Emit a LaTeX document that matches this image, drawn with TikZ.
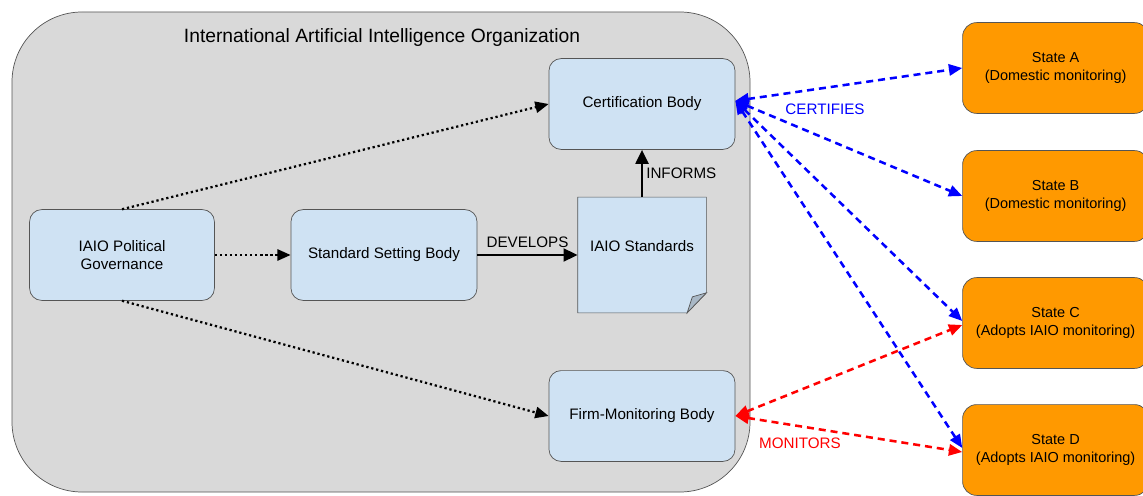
\documentclass[tikz,border=0pt]{standalone}
\usepackage{fontspec}
\setmainfont{Liberation Sans}
\usepackage{tikz}
\usetikzlibrary{arrows.meta,positioning,calc}
\definecolor{orggray}{HTML}{D9D9D9}
\definecolor{unitblue}{HTML}{CFE2F3}
\definecolor{stateorange}{HTML}{FF9900}
\definecolor{edgegray}{HTML}{555555}
\definecolor{foldgray}{HTML}{A9B8C6}
\tikzset{
    >={Triangle[length=9.5pt,width=8pt]},
    every picture/.style={line width=0.5pt},
    unit/.style={rectangle,rounded corners=0.3cm,draw=edgegray,fill=unitblue,
        minimum width=4.65cm,minimum height=2.27cm,align=center,
        font=\fontsize{10.8}{13}\selectfont},
    statebox/.style={rectangle,rounded corners=0.35cm,draw=edgegray,fill=stateorange,
        minimum width=4.65cm,minimum height=2.27cm,align=center,
        font=\fontsize{10.3}{12.3}\selectfont},
    lbl/.style={font=\fontsize{10.8}{13}\selectfont,inner sep=1pt},
    link/.style={line width=1.6pt,dotted,->},
    flow/.style={line width=2.1pt,-{Triangle[length=10pt,width=9pt]}},
    certline/.style={line width=1.8pt,blue,dash pattern=on 5pt off 3.5pt,<->},
    monline/.style={line width=1.8pt,red,dash pattern=on 5pt off 3.5pt,<->}
}
\begin{document}
\begin{tikzpicture}
    \useasboundingbox (0,0) rectangle (28.575,12.375);
    % organisation frame
    \draw[draw=edgegray,fill=orggray,rounded corners=1.75cm] (0.3,0.075) rectangle (18.75,12.075);
    \node[font=\fontsize{13.7}{16}\selectfont] (orgtitle) at (9.55,11.425) {International Artificial Intelligence Organization};

    % bodies
    \node[unit] (cert) at (16.05,9.775) {Certification Body};
    \node[unit,minimum width=4.62cm] (gov) at (3.05,6.0) {IAIO Political\\Governance};
    \node[unit] (ssb) at (9.6,6.0) {Standard Setting Body};
    \node[unit] (firm) at (16.05,1.975) {Firm-Monitoring Body};

    % standards document
    \node[minimum width=3.2cm,minimum height=2.875cm,inner sep=0pt] (std) at (16.05,6.0) {};
    \draw[draw=edgegray,fill=unitblue]
        (std.north west) -- (std.north east) -- ($(std.south east)+(0,0.5)$)
        -- ($(std.south east)+(-0.48,0)$) -- (std.south west) -- cycle;
    \draw[draw=edgegray,fill=foldgray]
        ($(std.south east)+(0,0.5)$) -- ($(std.south east)+(-0.35,0.4)$)
        -- ($(std.south east)+(-0.48,0)$) -- cycle;
    \node[lbl] (stdtext) at ($(std)+(0,0.22)$) {IAIO Standards};

    % states
    \node[statebox] (stA) at (26.39,10.675) {State A\\(Domestic monitoring)};
    \node[statebox] (stB) at (26.39,7.475) {State B\\(Domestic monitoring)};
    \node[statebox] (stC) at (26.39,4.3) {State C\\(Adopts IAIO monitoring)};
    \node[statebox] (stD) at (26.39,1.125) {State D\\(Adopts IAIO monitoring)};

    % internal links
    \draw[link] (gov.north) -- (cert.west);
    \draw[link] (gov.east) -- (ssb.west);
    \draw[link] (gov.south) -- (firm.west);
    \draw[flow] (ssb.east) -- node[lbl,above=3pt] {DEVELOPS} (std.west);
    \draw[flow] (std.north) -- node[lbl,right=1pt] {INFORMS} (cert.south);

    % certification
    \draw[certline] ($(cert.east)+(0,0.08)$) -- (stA.west);
    \draw[certline] ($(cert.east)+(0,0.08)$) -- (stB.west);
    \draw[certline] ($(cert.east)+(0,0.08)$) -- ($(stC.west)+(0,0.05)$);
    \draw[certline] ($(cert.east)+(0,0.08)$) -- ($(stD.west)+(0,0.05)$);
    \node[lbl,text=blue] (certlbl) at (20.625,9.65) {CERTIFIES};

    % monitoring
    \draw[monline] (firm.east) -- ($(stC.west)+(0,-0.05)$);
    \draw[monline] (firm.east) -- ($(stD.west)+(0,-0.05)$);
    \node[lbl,text=red] (monlbl) at (20.0,1.3) {MONITORS};
\end{tikzpicture}
\end{document}
